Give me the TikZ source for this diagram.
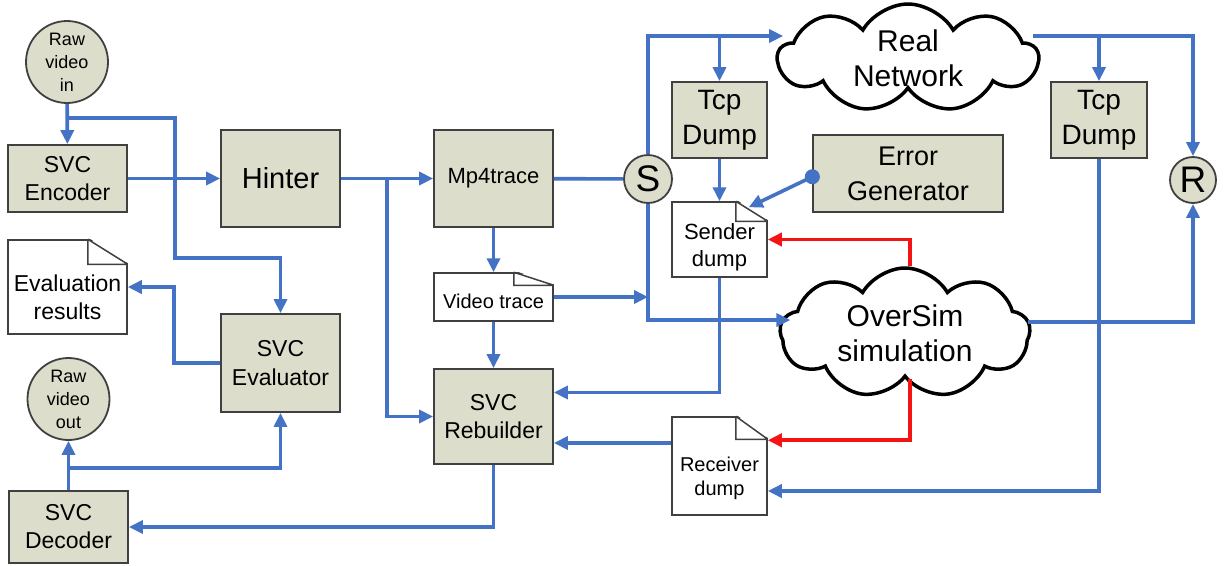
\documentclass[tikz,border=0pt]{standalone}
\usepackage{fontspec}
\setmainfont{Liberation Sans}
\usetikzlibrary{positioning,shapes.symbols,arrows.meta}

\definecolor{linkblue}{RGB}{68,114,196}
\definecolor{boxfill}{RGB}{221,221,204}
\definecolor{boxline}{RGB}{64,64,64}
\definecolor{simred}{RGB}{245,20,20}

% folded corner of a document node: node, fold width, fold height
\newcommand{\docfold}[3]{%
  \fill[white] ([shift={(-#2pt,2pt)}]#1.north east) -- ([shift={(2pt,2pt)}]#1.north east)
     -- ([shift={(2pt,-#3pt)}]#1.north east) -- cycle;
  \draw[boxline, line width=1.5pt] ([xshift=-#2pt]#1.north east) -- ([yshift=-#3pt]#1.north east)
     ([xshift=-#2pt]#1.north east) |- ([yshift=-#3pt]#1.north east);
}

\begin{document}
\begin{tikzpicture}[x=1pt, y=-1pt,
    fs/.style 2 args={font=\fontsize{#1}{#2}\selectfont},
    block/.style={draw=boxline, fill=boxfill, line width=1.8pt, inner sep=0pt, align=center},
    blob/.style={circle, draw=boxline, fill=boxfill, line width=1.8pt, inner sep=0pt, align=center},
    doc/.style={draw=boxline, fill=white, line width=1.5pt, inner sep=0pt},
    doctext/.style={inner sep=0pt, align=center},
    net/.style={cloud, cloud puffs=9, cloud puff arc=120, cloud ignores aspect, draw=black,
      line width=3.5pt, fill=white, inner sep=0pt, align=center},
    link/.style={draw=linkblue, line width=3.6pt, -{Triangle[length=14pt,width=13pt]}},
    plain/.style={draw=linkblue, line width=3.6pt},
    redlink/.style={draw=simred, line width=3.6pt, -{Triangle[length=14pt,width=13pt]}}]

    \useasboundingbox (0,0) rectangle (1225,565);

    % left column
    \node (rawin) [blob, fs={18}{23}, minimum size=82pt] at (67,62) {Raw\\video\\in};
    \node (enc) [block, fs={23}{28}, minimum width=119pt, minimum height=67pt] at (67.5,178.5) {SVC\\Encoder};
    \node (evalres) [doc, minimum width=119pt, minimum height=94pt] at (67.5,287) {};
    \docfold{evalres}{40}{25}
    \node (evalres text) [doctext, fs={23}{28}] at ([yshift=-10pt]evalres.center) {Evaluation\\results};
    \node (rawout) [blob, fs={18}{23}, minimum size=82pt] at (68.5,399) {Raw\\video\\out};
    \node (dec) [block, fs={23}{28}, minimum width=119pt, minimum height=72pt] at (68.5,527) {SVC\\Decoder};

    % tools
    \node (hinter) [block, fs={29}{35}, minimum width=119pt, minimum height=97pt] at (280.5,178.5) {Hinter};
    \node (evaluator) [block, fs={23}{29}, minimum width=119pt, minimum height=98pt] at (280.5,363) {SVC\\Evaluator};
    \node (mp4) [block, fs={22}{27}, minimum width=119pt, minimum height=97pt] at (493.5,178.5) {Mp4trace};
    \node (vtrace) [doc, minimum width=119pt, minimum height=48pt] at (493.5,297) {};
    \docfold{vtrace}{40}{13}
    \node (vtrace text) [doctext, fs={20}{24}] at ([yshift=-4pt]vtrace.center) {Video trace};
    \node (rebuild) [block, fs={23}{28}, minimum width=119pt, minimum height=95pt] at (493.5,416.5) {SVC\\Rebuilder};

    % sender side
    \node (S) [blob, fs={37}{40}, minimum size=48pt] at (648,179) {S};
    \node (tcp1) [block, fs={28}{35}, minimum width=95pt, minimum height=76pt] at (719.5,120) {Tcp\\Dump};
    \node (senddump) [doc, minimum width=95pt, minimum height=75pt] at (719.5,239.5) {};
    \docfold{senddump}{32}{20}
    \node (senddump text) [doctext, fs={22}{27}] at ([yshift=-8pt]senddump.center) {Sender\\dump};
    \node (recvdump) [doc, minimum width=95pt, minimum height=98pt] at (719.5,466) {};
    \docfold{recvdump}{32}{23}
    \node (recvdump text) [doctext, fs={20}{24}] at ([yshift=-12pt]recvdump.center) {Receiver\\dump};

    % networks
    \node (realnet) [net, fs={30}{35}, minimum width=260pt, minimum height=108pt] at (908,58) {Real\\Network};
    \node (oversim) [net, fs={30}{35}, minimum width=250pt, minimum height=130pt] at (905,333) {OverSim\\simulation};
    \node (errgen) [block, fs={27}{35}, minimum width=190pt, minimum height=77pt] at (908,173.5) {Error\\Generator};

    % receiver side
    \node (tcp2) [block, fs={28}{35}, minimum width=96pt, minimum height=76pt] at (1099,120) {Tcp\\Dump};
    \node (R) [blob, fs={37}{40}, minimum size=46pt] at (1193,180) {R};

    \coordinate (split in) at (67,118);
    \coordinate (split h) at (387,178.5);
    \coordinate (split out) at (68.5,468);
    \coordinate (rn in) at ([shift={(8pt,22pt)}]realnet.west);
    \coordinate (rn out) at ([shift={(-8pt,22pt)}]realnet.east);
    \coordinate (os in) at ([shift={(12pt,13pt)}]oversim.west);

    % encoding chain
    \draw[link] (rawin) -- (enc);
    \draw[link] (split in) -- (175,118) -- (175,258) -| (evaluator);
    \draw[link] (enc) -- (hinter);
    \draw[link] (hinter) -- (mp4);
    \draw[link] (split h) |- (rebuild);
    \draw[plain] (mp4) -- (S);
    \draw[link] (mp4) -- (vtrace);
    \draw[link] (vtrace) -- (rebuild);
    \draw[link] (vtrace.east) -- (vtrace.east -| S);

    % sending
    \draw[link] (S) |- (rn in);
    \draw[link] (tcp1 |- rn in) -- (tcp1);
    \draw[link] (S) |- (os in);
    \draw[link] (tcp1) -- (senddump);
    \draw[{Circle[length=15pt]}-{Triangle[length=14pt,width=13pt]}, draw=linkblue, fill=linkblue, line width=3.6pt]
        ([xshift=7pt]errgen.west) -- ([shift={(-19pt,-6pt)}]senddump.north east);
    \draw[redlink] ([xshift=5pt]oversim.north) |- (senddump);
    \draw[redlink] ([xshift=5pt]oversim.south) |- ([yshift=-24pt]recvdump.north east);

    % receiving
    \draw[link] (rn out) -| (R);
    \draw[link] (tcp2 |- rn out) -- (tcp2);
    \draw[link] ([shift={(-4pt,11pt)}]oversim.east) -| (R);
    \draw[link] (tcp2) |- ([yshift=-25pt]recvdump.east);

    % rebuilding and evaluation
    \draw[link] (senddump.south) |- ([yshift=24pt]rebuild.east);
    \draw[link] ([yshift=23pt]recvdump.west) -- ([yshift=23pt]recvdump.west -| rebuild.east);
    \draw[link] (rebuild) |- (dec);
    \draw[link] (dec) -- (rawout);
    \draw[link] (split out) -| (evaluator);
    \draw[link] (evaluator.west) -- ++(-46,0) |- (evalres);
\end{tikzpicture}
\end{document}
